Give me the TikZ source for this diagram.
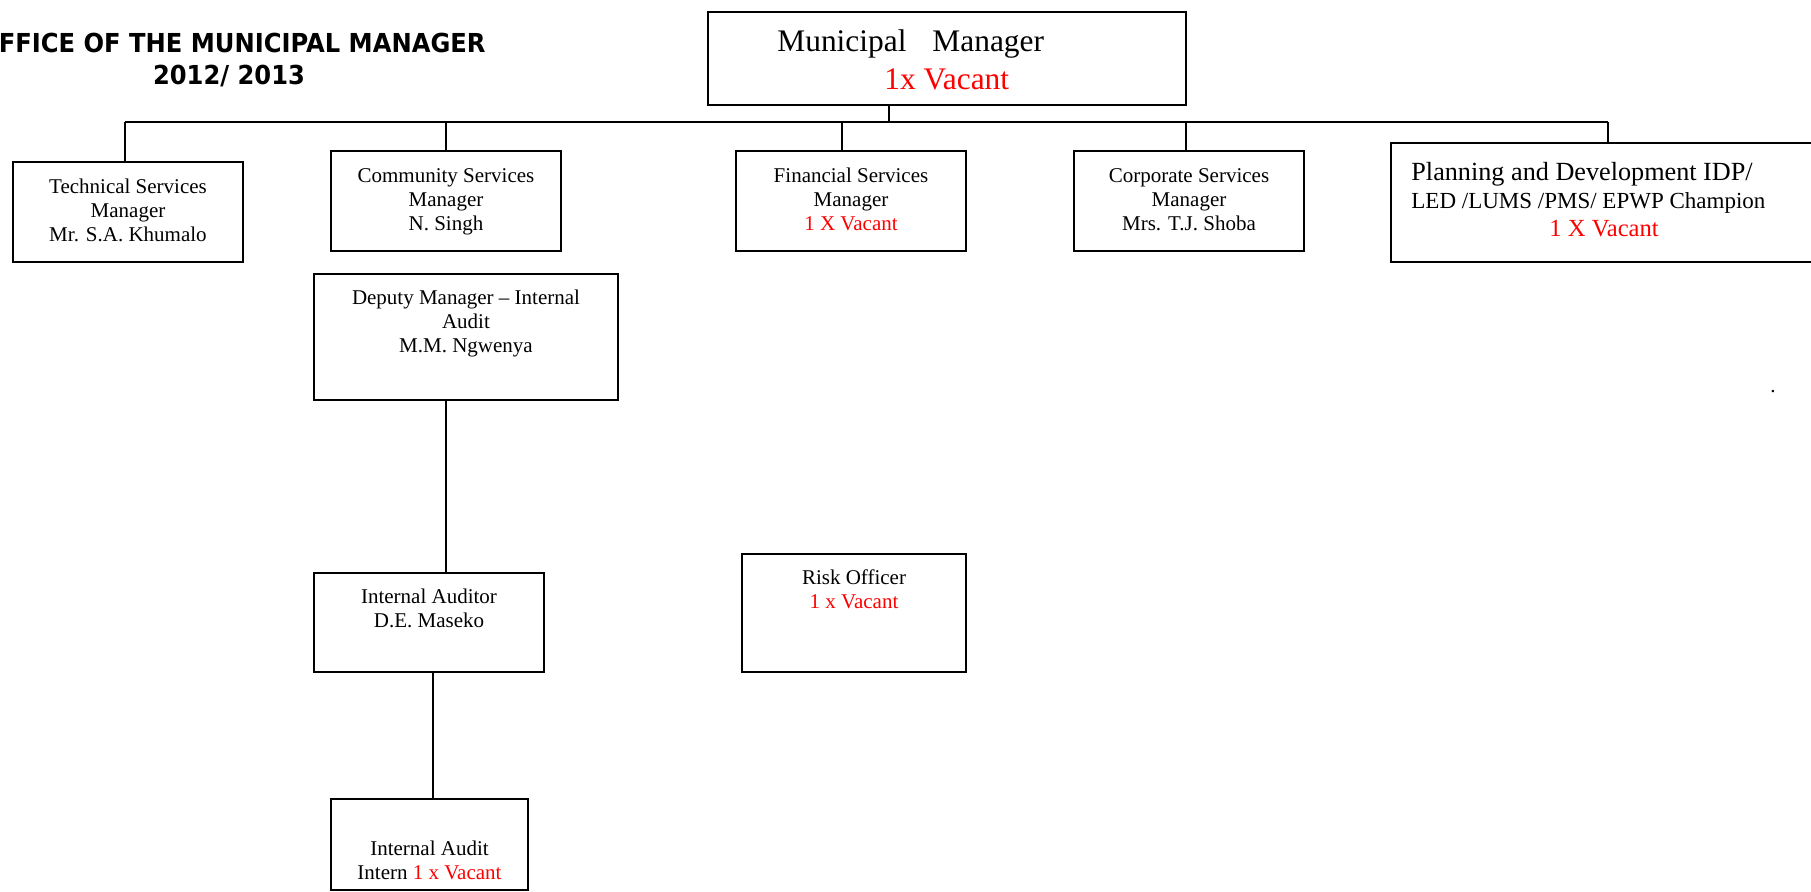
\documentclass[tikz,border=0pt]{standalone}
\usepackage{fontspec}
\setmainfont{Liberation Serif}
\newfontfamily\titlefont{DejaVu Sans}
\begin{document}
\begin{tikzpicture}[x=0.5pt,y=-0.5pt,
  box/.style={draw, line width=1pt, inner sep=0pt, rectangle},
  conn/.style={line width=1pt},
  txt/.style={inner sep=0pt, align=center, anchor=north, font=\fontsize{10.5pt}{12pt}\selectfont},
  ttl/.style={inner sep=0pt, font=\titlefont\bfseries\fontsize{12.1pt}{14pt}\selectfont}
]
\useasboundingbox (0,0) rectangle (1811,891);

% title
\node[ttl, anchor=base east] (title1) at (486,52) {\scalebox{1}[1.08]{FFICE OF THE MUNICIPAL MANAGER}};
\node[ttl, anchor=base] (title2) at (229,84) {\scalebox{1}[1.08]{2012/ 2013}};

% boxes
\node[box, minimum width=239pt, minimum height=46.5pt] (mm) at (947,58.5) {};
\node[box, minimum width=115pt, minimum height=50pt] (tech) at (128,212) {};
\node[box, minimum width=115pt, minimum height=50pt] (comm) at (446,201) {};
\node[box, minimum width=115pt, minimum height=50pt] (fin) at (851,201) {};
\node[box, minimum width=115pt, minimum height=50pt] (corp) at (1189,201) {};
\node[box, minimum width=211pt, minimum height=59.5pt] (plan) at (1602,202.5) {};
\node[box, minimum width=152pt, minimum height=63pt] (dep) at (466,337) {};
\node[box, minimum width=115pt, minimum height=49.5pt] (ia) at (429,622.5) {};
\node[box, minimum width=112pt, minimum height=59pt] (risk) at (854,613) {};
\node[box, minimum width=98.5pt, minimum height=45.5pt] (intern) at (429.5,844.5) {};

% texts
\node[inner sep=0pt, anchor=north west, align=left, font=\fontsize{15.7pt}{19pt}\selectfont] (mmT) at (777,24.4)
  {\strut Municipal\hspace{13pt}Manager\\\hspace*{53.5pt}\textcolor{red}{1x Vacant}};
\node[txt] (techT) at (128,176.2) {\strut Technical Services\\Manager\\Mr. S.A. Khumalo};
\node[txt] (commT) at (446,165.2) {\strut Community Services\\Manager\\N. Singh};
\node[txt] (finT) at (851,165.2) {\strut Financial Services\\Manager\\\textcolor{red}{1 X Vacant}};
\node[txt] (corpT) at (1189,165.2) {\strut Corporate Services\\Manager\\Mrs. T.J. Shoba};
\node[inner sep=0pt, anchor=north west, align=left, font=\fontsize{12.3pt}{14pt}\selectfont] (planT) at (1411,160.4)
  {\strut{\fontsize{13.1pt}{14pt}\selectfont Planning and Development IDP/}\\{\fontsize{11.5pt}{14pt}\selectfont LED /LUMS /PMS/ EPWP Champion}\\\hspace*{69pt}\textcolor{red}{1 X Vacant}};
\node[txt] (depT) at (466,287.2) {\strut Deputy Manager – Internal\\Audit\\M.M. Ngwenya};
\node[txt] (iaT) at (429,586.2) {\strut Internal Auditor\\D.E. Maseko};
\node[txt] (riskT) at (854,567.7) {\strut Risk Officer\\\textcolor{red}{1 x Vacant}};
\node[txt] (internT) at (429.5,838.7) {\strut Internal Audit\\Intern \textcolor{red}{1 x Vacant}};
\node[inner sep=0pt, anchor=base, font=\fontsize{10.5pt}{12pt}\selectfont] (dot) at (1773,392) {.};

% bus
\coordinate (j0) at (889,122);
\coordinate (jT) at (125,122);
\coordinate (jC) at (446,122);
\coordinate (jF) at (842,122);
\coordinate (jK) at (1186,122);
\coordinate (jP) at (1608,122);
\draw[conn] (mm.south -| j0) -- (j0);
\draw[conn] (jT) -- (jP);
\draw[conn] (jT) -- (jT |- tech.north);
\draw[conn] (jC) -- (jC |- comm.north);
\draw[conn] (jF) -- (jF |- fin.north);
\draw[conn] (jK) -- (jK |- corp.north);
\draw[conn] (jP) -- (jP |- plan.north);

% lower connectors
\draw[conn] (dep.south -| comm.north) -- (ia.north -| comm.north);
\draw[conn] ([xshift=2pt]ia.south) -- ([xshift=2pt]ia.south |- intern.north);
\end{tikzpicture}
\end{document}
